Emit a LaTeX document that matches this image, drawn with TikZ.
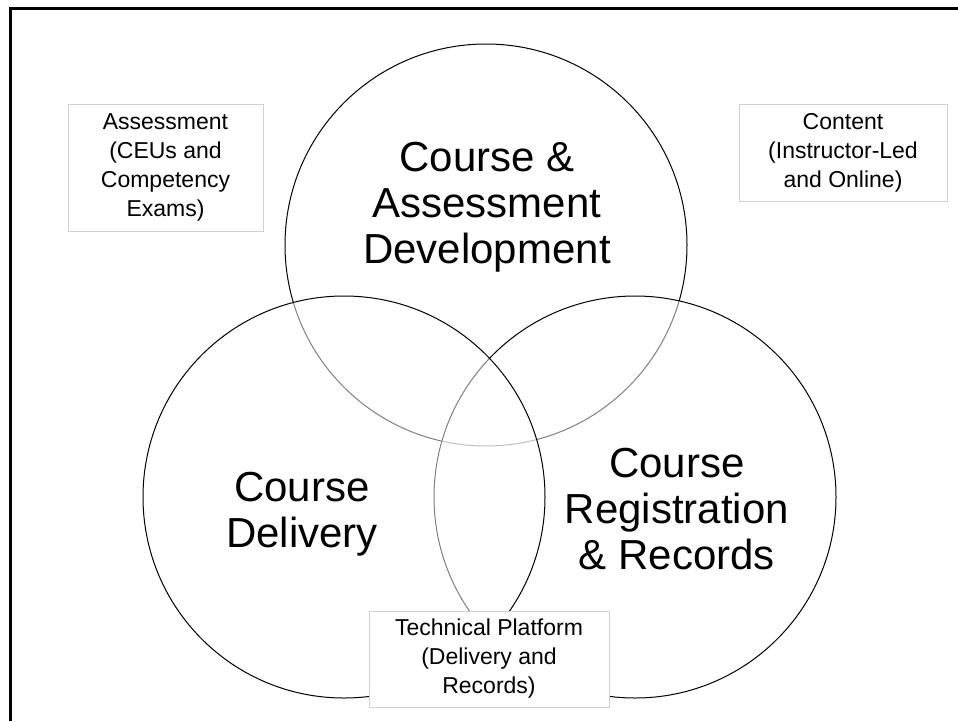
\documentclass[tikz,border=0pt]{standalone}
\usepackage{xcolor}
\usepackage{fontspec}
\setmainfont{Liberation Sans}
\usepackage{tikz}

\begin{document}
\begin{tikzpicture}[x=1pt,y=-1pt,
kreis/.style={circle, minimum size = 402pt, inner sep=0pt, draw=black, line width=1pt, fill=white, fill opacity=0.5},
gross/.style={align=center, inner sep=0pt, font=\fontsize{42}{46}\selectfont},
kasten/.style={draw=black!18, line width=1pt, fill=white, align=center, inner sep=0pt, font=\fontsize{23}{29}\selectfont},
]
\useasboundingbox (0,0) rectangle (958,721);
\draw[line width=3pt] (958,8) -- (10,8) -- (10,721);

\node[kreis] (D) at (486,245){};
\node[kreis] (R) at (635,497){};
\node[kreis] (L) at (344,497){};

\node[gross] (dtext) at (487,207){Course \&\\Assessment\\Development};
\node[gross] (ltext) at (302,514){Course\\Delivery};
\node[gross] (rtext) at (677,509){Course\\Registration\\\& Records};

\node[kasten, minimum width=195pt, minimum height=127pt] (bewertung) at (165.5,167.5){Assessment\\(CEUs and\\Competency\\Exams)};
\node[kasten, minimum width=208pt, minimum height=97pt] (inhalt) at (843,152.5){Content\\(Instructor-Led\\and Online)};
\node[kasten, minimum width=240pt, minimum height=96pt] (plattform) at (489,659){Technical Platform\\(Delivery and\\Records)};

\end{tikzpicture}
\end{document}
